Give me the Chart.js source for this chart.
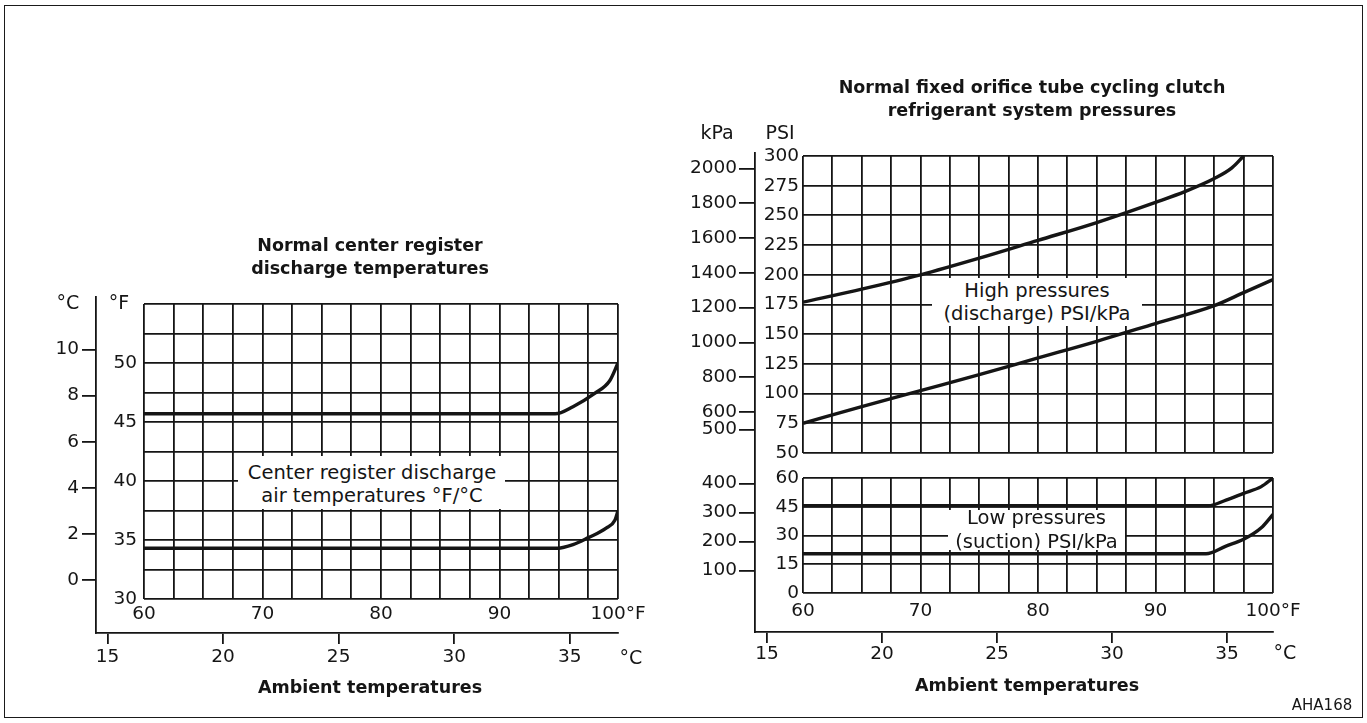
<!DOCTYPE html>
<html>
<head>
<meta charset="utf-8">
<script src="https://cdn.jsdelivr.net/npm/chart.js@4.4.1/dist/chart.umd.min.js"></script>
<style>
    html, body { margin: 0; padding: 0; background: #fff; }
    #page   { position: relative; width: 1367px; height: 723px; overflow: hidden; background: #fff; }
    #page canvas { position: absolute; left: 0; top: 0; }
    .frame  { position: absolute; left: 4px; top: 5px; width: 1357px; height: 711px; border: 1.5px solid #1a1a1a; }
    .txt    { position: absolute; transform: translate(-50%, -50%); white-space: nowrap; color: #151515;
              font-family: "DejaVu Sans", sans-serif; font-size: 19px; line-height: 23px; text-align: center; }
    .ttl    { font-weight: bold; font-size: 17.5px; }
    .note   { font-size: 19.5px; }
    .box    { position: absolute; background: #fff; }
</style>
</head>
<body>
<div id="page">
    <div class="frame"></div>

    <canvas id="c-reg-frame" width="1367" height="723"></canvas>
    <canvas id="c-reg"       width="1367" height="723"></canvas>
    <canvas id="c-prs-frame" width="1367" height="723"></canvas>
    <canvas id="c-hi"        width="1367" height="723"></canvas>
    <canvas id="c-lo"        width="1367" height="723"></canvas>

    <!-- left panel texts -->
    <div class="txt ttl" style="left:370px;top:245px">Normal center register</div>
    <div class="txt ttl" style="left:370px;top:268px">discharge temperatures</div>
    <div class="txt" style="left:68px;top:302px">°C</div>
    <div class="txt" style="left:119px;top:302px">°F</div>
    <div class="txt" style="left:631px;top:657px">°C</div>
    <div class="txt ttl" style="left:370px;top:687px">Ambient temperatures</div>
    <div class="box" style="left:238px;top:456px;width:267px;height:53px"></div>
    <div class="txt note" style="left:372px;top:483.5px">Center register discharge<br>air temperatures °F/°C</div>

    <!-- right panel texts -->
    <div class="txt ttl" style="left:1032px;top:87px">Normal fixed orifice tube cycling clutch</div>
    <div class="txt ttl" style="left:1032px;top:110px">refrigerant system pressures</div>
    <div class="txt" style="left:717px;top:132px">kPa</div>
    <div class="txt" style="left:780px;top:132px">PSI</div>
    <div class="txt" style="left:1285px;top:652px">°C</div>
    <div class="txt ttl" style="left:1027px;top:685px">Ambient temperatures</div>
    <div class="box" style="left:932px;top:278px;width:210px;height:48px"></div>
    <div class="txt note" style="left:1037px;top:301.5px">High pressures<br>(discharge) PSI/kPa</div>
    <div class="box" style="left:948px;top:510px;width:177px;height:40px"></div>
    <div class="txt note" style="left:1036.5px;top:530px;line-height:24px">Low pressures<br>(suction) PSI/kPa</div>

    <div class="txt" style="left:1322px;top:705px;font-size:15px">AHA168</div>
</div>

<script>
// ───── DADOS ─────
// esquerda: temperatura do ar na saída central (°F) x temperatura ambiente (°F)
const regAmbHigh  = [60, 94.7, 96.2, 98.0, 99.3, 100];
const regTempHigh = [45.7, 45.7, 46.3, 47.4, 48.5, 50];
const regAmbLow   = [60, 94.9, 96.2, 97.5, 99.0, 99.75, 100];
const regTempLow  = [34.3, 34.3, 34.6, 35.2, 36.0, 36.7, 37.5];

// direita: alta pressão (descarga), PSI
const hiAmbUpper = [60, 65, 70, 75, 80, 85, 90, 92.5, 95, 96.5, 97.5];
const hiPsiUpper = [177, 188, 200, 214, 229, 244, 261, 270, 281, 290, 300];
const hiAmbLower = [60, 65, 70, 75, 80, 85, 90, 95, 97.5, 100];
const hiPsiLower = [75, 89, 102.5, 116, 130, 144, 159, 174, 185, 196];

// direita: baixa pressão (sucção), PSI
const loAmbUpper = [60, 94.5, 96, 97.5, 99, 100];
const loPsiUpper = [45.5, 45.5, 48.5, 52, 55.5, 60];
const loAmbLower = [60, 94.3, 96, 97.5, 99, 100];
const loPsiLower = [20.5, 20.5, 24.5, 28, 34, 41];

// rótulos dos eixos
const ambLabelsF  = [60, 70, 80, 90, 100];
const ambLabelsC  = [15, 20, 25, 30, 35];
const regLabelsF  = [30, 35, 40, 45, 50];
const regLabelsC  = [0, 2, 4, 6, 8, 10];
const hiLabelsPsi = [50, 75, 100, 125, 150, 175, 200, 225, 250, 275, 300];
const hiLabelsKpa = [500, 600, 800, 1000, 1200, 1400, 1600, 1800, 2000];
const loLabelsPsi = [0, 15, 30, 45, 60];
const loLabelsKpa = [100, 200, 300, 400];

// faixas das escalas (as escalas secundárias do impresso não batem 100% com a conversão)
const ambRangeF      = [60, 100];
const ambRangeCLeft  = [14.5, 37.09];
const ambRangeCRight = [14.48, 37.0];
const regRangeF      = [30, 55];
const regRangeC      = [-2.3, 12.28];
const hiRangePsi     = [50, 300];
const hiRangeKpa     = [364.7, 2071.6];
const loRangePsi     = [0, 60];
const loRangeKpa     = [22.4, 419];

// ───── ESTILO ─────
const INK       = "#151515";
const GRID_W    = 1.8;
const CURVE_W   = 3.4;
const TICK_FONT = { family: "DejaVu Sans", size: 18.5 };

const fixW = w => s => { s.width = w;  s.paddingTop = 0;  s.paddingBottom = 0; };
const fixH = h => s => { s.height = h; s.paddingLeft = 0; s.paddingRight = 0; };
const onlyTicks = vals => s => { s.ticks = vals.map(v => ({ value: v })); };
const pts = (xs, ys) => xs.map((x, i) => ({ x, y: ys[i] }));
const fmtF = v => v === 100 ? "100°F" : String(v);

// eixo com grade completa (a cada passo), rótulos só nos valores da lista
function gridAxis(pos, range, step, size, labels, pad, fmt) {
    const ticks = { display: !!labels, stepSize: step, autoSkip: false, maxRotation: 0,
                    color: INK, font: TICK_FONT, padding: pad || 0 };
    if (labels) ticks.callback = v => labels.includes(v) ? (fmt ? fmt(v) : String(v)) : "";
    return {
        type: "linear", position: pos, min: range[0], max: range[1], weight: 0,
        afterFit: pos === "bottom" ? fixH(size) : fixW(size),
        grid:   { color: INK, lineWidth: GRID_W, drawTicks: false },
        border: { display: false },
        ticks
    };
}

// eixo secundário: só tracinhos e rótulos, sem grade
// (a caixa do eixo precisa caber o rótulo inteiro, o Chart.js recorta o texto nela)
function tickAxis(pos, range, labels, size, tickLen, pad, weight, showBorder) {
    return {
        type: "linear", position: pos, min: range[0], max: range[1], weight: weight,
        afterBuildTicks: onlyTicks(labels),
        afterFit: pos === "bottom" ? fixH(size) : fixW(size),
        grid:   { drawOnChartArea: false, drawTicks: true, tickLength: tickLen, color: INK, lineWidth: GRID_W },
        border: { display: showBorder, color: INK, width: GRID_W },
        ticks:  { autoSkip: false, maxRotation: 0, color: INK, font: TICK_FONT, padding: pad,
                  callback: v => String(v) }   // sem separador de milhar: "2000"
    };
}

function curve(xs, ys) {
    return { data: pts(xs, ys), showLine: true, borderColor: INK, borderWidth: CURVE_W,
             pointRadius: 0, fill: false, cubicInterpolationMode: "monotone" };
}

function baseOpts(padding, scales) {
    return {
        responsive: false, animation: false, events: [],
        layout: { padding },
        plugins: { legend: { display: false }, tooltip: { enabled: false }, title: { display: false } },
        scales
    };
}

// ───── ESQUERDA: moldura °C ─────
new Chart(document.getElementById("c-reg-frame").getContext("2d"), {
    type: "scatter",
    data: { datasets: [] },
    options: baseOpts({ left: 36, top: 297, right: 749, bottom: 50 }, {
        x: tickAxis("bottom", ambRangeCLeft, ambLabelsC, 40, 11, 2, 0, true),
        y: tickAxis("left",   regRangeC,     regLabelsC, 60, 14, 3, 0, true)
    })
});

// ───── ESQUERDA: grade °F com as curvas ─────
new Chart(document.getElementById("c-reg").getContext("2d"), {
    type: "scatter",
    data: { datasets: [ curve(regAmbHigh, regTempHigh), curve(regAmbLow, regTempLow) ] },
    options: baseOpts({ left: 104, top: 304, right: 749, bottom: 94 }, {
        x: gridAxis("bottom", ambRangeF, 2.5, 30, ambLabelsF, 4, fmtF),
        y: gridAxis("left",   regRangeF, 2.5, 40, regLabelsF, 7)
    })
});

// ───── DIREITA: moldura kPa / °C ─────
new Chart(document.getElementById("c-prs-frame").getContext("2d"), {
    type: "scatter",
    data: { datasets: [] },
    options: baseOpts({ left: 745, top: 153, right: 94, bottom: 51 }, {
        x: tickAxis("bottom", ambRangeCRight, ambLabelsC, 40, 11, 0, 0, true),
        y: {
            type: "linear", position: "left", min: 0, max: 1,
            afterFit: fixW(10),
            grid:   { drawOnChartArea: false, drawTicks: false, color: INK },
            border: { display: true, color: INK, width: GRID_W },
            ticks:  { display: false }
        }
    })
});

// ───── DIREITA: alta pressão ─────
new Chart(document.getElementById("c-hi").getContext("2d"), {
    type: "scatter",
    data: { datasets: [ curve(hiAmbUpper, hiPsiUpper), curve(hiAmbLower, hiPsiLower) ] },
    options: baseOpts({ left: 675, top: 156, right: 94, bottom: 270 }, {
        x:   gridAxis("bottom", ambRangeF, 2.5, 0),
        y:   gridAxis("left", hiRangePsi, 25, 48, hiLabelsPsi, 4),
        kpa: tickAxis("left", hiRangeKpa, hiLabelsKpa, 80, 16, 2, 1, false)
    })
});

// ───── DIREITA: baixa pressão ─────
new Chart(document.getElementById("c-lo").getContext("2d"), {
    type: "scatter",
    data: { datasets: [ curve(loAmbUpper, loPsiUpper), curve(loAmbLower, loPsiLower) ] },
    options: baseOpts({ left: 675, top: 478, right: 94, bottom: 100 }, {
        x:   gridAxis("bottom", ambRangeF, 2.5, 30, ambLabelsF, 7, fmtF),
        y:   gridAxis("left", loRangePsi, 15, 48, loLabelsPsi, 4),
        kpa: tickAxis("left", loRangeKpa, loLabelsKpa, 80, 16, 2, 1, false)
    })
});
</script>
</body>
</html>
